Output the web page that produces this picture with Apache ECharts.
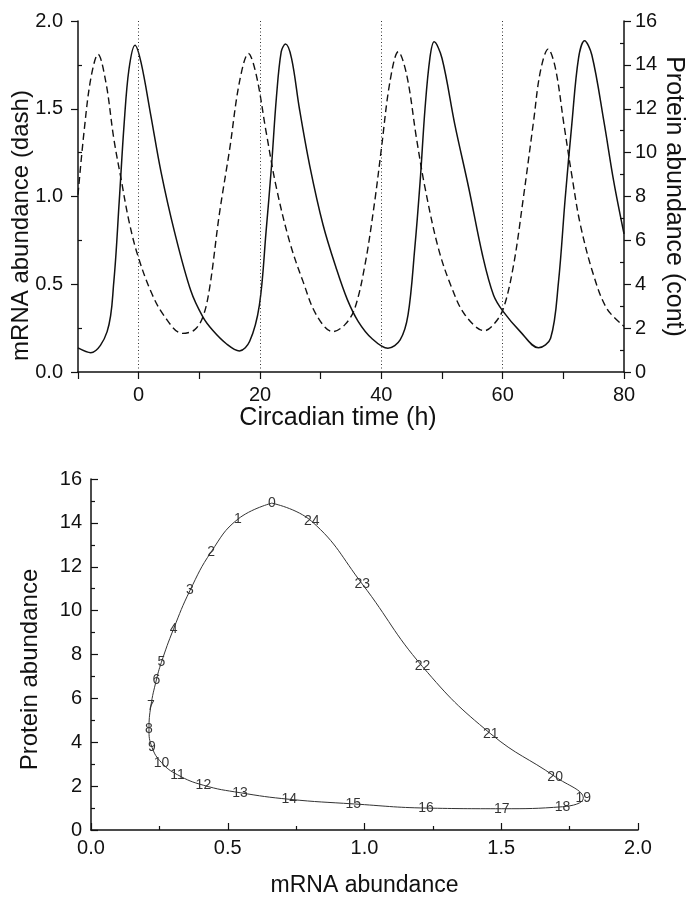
<!DOCTYPE html>
<html>
<head>
<meta charset="utf-8">
<script src="https://cdn.jsdelivr.net/npm/echarts@6/dist/echarts.min.js"></script>
<style>
html,body{margin:0;padding:0;background:#fff;}
#chart{width:688px;height:899px;}
</style>
</head>
<body>
<div id="chart"></div>
<script>
// ---- Top panel: time courses (h) ----
var mrnaT = [-10, -9.0, -7.9, -6.7, -5.4, -4.1, -2.9, -1.6, -0.2, 2.0, 4.2, 7.2, 9.2, 10.6, 11.7, 13.3, 15.0, 16.6, 18.1, 19.4, 21.0, 22.7, 24.9, 27.1, 29.3, 32.0, 34.0, 35.6, 37.3, 38.9, 40.0, 41.4, 42.8, 44.2, 45.8, 47.2, 49.4, 51.6, 53.8, 57.0, 58.5, 60.1, 61.8, 63.4, 65.1, 66.2, 67.5, 68.7, 70.1, 71.4, 72.8, 75.0, 77.2, 80];
var mrnaV = [1.01, 1.37, 1.67, 1.81, 1.65, 1.33, 1.10, 0.86, 0.67, 0.46, 0.32, 0.22, 0.24, 0.315, 0.48, 0.90, 1.27, 1.65, 1.815, 1.69, 1.37, 1.05, 0.74, 0.515, 0.325, 0.23, 0.27, 0.36, 0.61, 0.97, 1.27, 1.65, 1.825, 1.69, 1.33, 1.05, 0.705, 0.48, 0.325, 0.235, 0.27, 0.36, 0.61, 0.99, 1.43, 1.71, 1.84, 1.73, 1.41, 1.12, 0.84, 0.55, 0.36, 0.26];
var protT = [-10, -7.9, -5.2, -4.1, -3.2, -2.4, -1.6, -0.6, 0.4, 2.0, 3.7, 5.9, 8.6, 10.6, 12.2, 14.4, 16.6, 18.3, 19.9, 21.0, 21.9, 22.7, 23.5, 24.2, 25.2, 26.5, 28.2, 30.4, 32.6, 34.4, 36.2, 38.4, 41.1, 43.1, 44.4, 45.5, 46.4, 47.2, 48.0, 48.7, 50.0, 52.1, 54.4, 56.7, 58.5, 60.1, 62.9, 65.9, 67.9, 69.2, 70.3, 71.4, 72.5, 73.5, 74.7, 76.7, 78.3, 80];
var protV = [1.1, 0.88, 1.84, 4.1, 7.8, 11.3, 13.8, 14.9, 14.1, 11.7, 9.1, 6.4, 3.7, 2.5, 1.9, 1.3, 0.96, 1.4, 3.05, 6.4, 9.4, 12.5, 14.6, 14.95, 14.3, 12.0, 9.4, 6.7, 4.7, 3.3, 2.3, 1.54, 1.08, 1.46, 2.6, 5.6, 8.7, 12.0, 14.3, 15.05, 14.3, 11.3, 8.4, 5.3, 3.5, 2.75, 1.84, 1.1, 1.54, 4.1, 7.9, 11.3, 14.3, 15.1, 14.45, 11.4, 8.7, 6.3];
var markTimes = [0, 20, 40, 60];

// ---- Bottom panel: phase plot, hourly ----
var hourLabels = ['0','1','2','3','4','5','6','7','8','9','10','11','12','13','14','15','16','17','18','19','20','21','22','23','24'];
var phaseMrna = [0.661, 0.537, 0.439, 0.362, 0.302, 0.257, 0.239, 0.219, 0.212, 0.223, 0.258, 0.316, 0.411, 0.545, 0.725, 0.959, 1.225, 1.502, 1.724, 1.80, 1.697, 1.462, 1.212, 0.992, 0.807];
var phaseProt = [14.9, 14.17, 12.67, 10.92, 9.17, 7.63, 6.84, 5.66, 4.59, 3.77, 3.07, 2.52, 2.04, 1.70, 1.40, 1.19, 1.00, 0.97, 1.06, 1.45, 2.43, 4.38, 7.45, 11.21, 14.07];

var FONT = 'Liberation Sans, Arial, Helvetica, sans-serif';
var INK = '#111';

function zip(a, b) { return a.map(function (v, i) { return [v, b[i]]; }); }

var mrnaData = zip(mrnaT, mrnaV);
var protData = zip(protT, protV);
var phaseData = zip(phaseMrna, phaseProt);
var phaseLoop = phaseData.concat([phaseData[0]]);

var axLine = { show: true, onZero: false, lineStyle: { color: INK, width: 1.5 } };
var lbl = function (extra) {
  var o = { color: INK, fontSize: 20, fontFamily: FONT };
  for (var k in extra) o[k] = extra[k];
  return o;
};
function nameStyle(size, pad) {
  return { color: INK, fontSize: size, fontFamily: FONT, padding: pad || 0 };
}

var chart = echarts.init(document.getElementById('chart'), null, { renderer: 'canvas' });
chart.setOption({
  animation: false,
  backgroundColor: '#fff',
  grid: [
    { left: 78, top: 21, width: 546, height: 351, containLabel: false, outerBoundsMode: 'none' },
    { left: 91, top: 479, width: 547, height: 351, containLabel: false, outerBoundsMode: 'none' }
  ],
  xAxis: [
    {
      gridIndex: 0, type: 'value', min: -10, max: 80, interval: 10,
      axisLine: axLine,
      axisTick: { show: true, inside: false, length: 7, lineStyle: { color: INK, width: 1.2 } },
      axisLabel: lbl({ margin: 13, formatter: function (v) { return v % 20 === 0 ? String(v) : ''; } }),
      splitLine: { show: false },
      name: 'Circadian time (h)', nameLocation: 'middle', nameGap: 34, nameMoveOverlap: false,
      nameTextStyle: nameStyle(25, [0, 26, 0, 0])
    },
    {
      gridIndex: 1, type: 'value', min: 0, max: 2, interval: 0.5,
      axisLine: axLine,
      axisTick: { show: true, inside: true, length: 7, lineStyle: { color: INK, width: 1.2 } },
      minorTick: { show: true, splitNumber: 2, length: 4, lineStyle: { color: INK, width: 1.2 } },
      axisLabel: lbl({ margin: 8, formatter: function (v) { return v.toFixed(1); } }),
      splitLine: { show: false },
      name: 'mRNA abundance', nameLocation: 'middle', nameGap: 44, nameMoveOverlap: false,
      nameTextStyle: nameStyle(23)
    }
  ],
  yAxis: [
    {
      gridIndex: 0, type: 'value', position: 'left', min: 0, max: 2, interval: 0.5,
      axisLine: axLine,
      axisTick: { show: true, inside: false, length: 7, lineStyle: { color: INK, width: 1.2 } },
      axisLabel: lbl({ margin: 15, formatter: function (v) { return v.toFixed(1); } }),
      splitLine: { show: false },
      name: 'mRNA abundance (dash)', nameLocation: 'middle', nameGap: 45, nameMoveOverlap: false,
      nameTextStyle: nameStyle(24, [0, 58, 0, 0])
    },
    {
      gridIndex: 0, type: 'value', position: 'right', min: 0, max: 16, interval: 2,
      axisLine: axLine,
      axisTick: { show: true, inside: false, length: 7, lineStyle: { color: INK, width: 1.2 } },
      axisLabel: lbl({ margin: 11 }),
      splitLine: { show: false },
      name: 'Protein abundance (cont)', nameLocation: 'middle', nameGap: 37, nameRotate: -90, nameMoveOverlap: false,
      nameTextStyle: nameStyle(25)
    },
    {
      gridIndex: 0, type: 'value', position: 'left', min: 0, max: 2, interval: 0.25,
      axisLine: { show: false, onZero: false },
      axisTick: { show: true, inside: true, length: 4, customValues: [0.25, 0.75, 1.25, 1.75], lineStyle: { color: INK, width: 1.2 } },
      axisLabel: { show: false },
      splitLine: { show: false }
    },
    {
      gridIndex: 0, type: 'value', position: 'right', min: 0, max: 16, interval: 1,
      axisLine: { show: false, onZero: false },
      axisTick: { show: true, inside: true, length: 4, customValues: [1, 3, 5, 7, 9, 11, 13, 15], lineStyle: { color: INK, width: 1.2 } },
      axisLabel: { show: false },
      splitLine: { show: false }
    },
    {
      gridIndex: 1, type: 'value', min: 0, max: 16, interval: 2,
      axisLine: axLine,
      axisTick: { show: true, inside: true, length: 7, lineStyle: { color: INK, width: 1.2 } },
      minorTick: { show: true, splitNumber: 2, length: 4, lineStyle: { color: INK, width: 1.2 } },
      axisLabel: lbl({ margin: 9 }),
      splitLine: { show: false },
      name: 'Protein abundance', nameLocation: 'middle', nameGap: 49, nameMoveOverlap: false,
      nameTextStyle: nameStyle(24, [0, 30, 0, 0])
    }
  ],
  series: [
    {
      name: 'mRNA', type: 'line', xAxisIndex: 0, yAxisIndex: 0,
      data: mrnaData, smooth: 0.35, showSymbol: false, symbol: 'none',
      lineStyle: { color: INK, width: 1.4, type: [7, 4] },
      markLine: {
        silent: true, symbol: ['none', 'none'], animation: false,
        label: { show: false },
        lineStyle: { color: '#333', width: 1, type: [1, 2.5] },
        data: markTimes.map(function (t) { return { xAxis: t }; })
      }
    },
    {
      name: 'Protein', type: 'line', xAxisIndex: 0, yAxisIndex: 1,
      data: protData, smooth: 0.35, showSymbol: false, symbol: 'none',
      lineStyle: { color: INK, width: 1.5 }
    },
    {
      name: 'Phase', type: 'line', xAxisIndex: 1, yAxisIndex: 4,
      data: phaseLoop, smooth: 0.45, showSymbol: false, symbol: 'none',
      lineStyle: { color: '#333', width: 1 }
    },
    {
      name: 'Hours', type: 'scatter', xAxisIndex: 1, yAxisIndex: 4,
      data: phaseData, symbolSize: 1,
      itemStyle: { color: 'rgba(0,0,0,0)' },
      label: {
        show: true, position: 'inside', color: '#000', fontSize: 14, fontFamily: FONT,
        formatter: function (p) { return hourLabels[p.dataIndex]; }
      }
    }
  ]
});
</script>
</body>
</html>
